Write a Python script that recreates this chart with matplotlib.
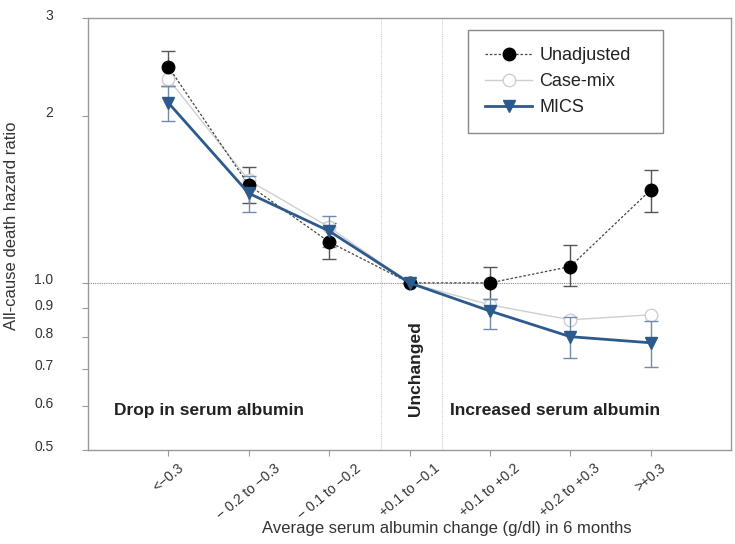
import numpy as np
import matplotlib
matplotlib.use("Agg")
import matplotlib.pyplot as plt
import matplotlib.transforms as mtransforms

plt.rcParams["font.family"] = ["Liberation Sans", "DejaVu Sans"]

# Categories (albumin change groups)
categories = ["<\u22120.3", "\u2212 0.2 to \u22120.3", "\u2212 0.1 to \u22120.2", "+0.1 to \u22120.1",
              "+0.1 to +0.2", "+0.2 to +0.3", ">+0.3"]

# Hazard ratios
unadj = [2.45, 1.50, 1.185, 1.0, 1.0, 1.07, 1.47]
unadj_lo = [2.26, 1.39, 1.105, 1.0, 0.936, 0.988, 1.34]
unadj_hi = [2.62, 1.62, 1.28, 1.0, 1.069, 1.17, 1.60]

casemix = [2.33, 1.53, 1.26, 1.0, 0.913, 0.858, 0.876]

mics = [2.11, 1.45, 1.24, 1.0, 0.89, 0.80, 0.78]
mics_lo = [1.96, 1.34, 1.16, 1.0, 0.826, 0.733, 0.706]
mics_hi = [2.26, 1.56, 1.32, 1.0, 0.936, 0.868, 0.852]

yticks = [0.5, 0.6, 0.7, 0.8, 0.9, 1.0, 2, 3]
ytick_labels = ["0.5", "0.6", "0.7", "0.8", "0.9", "1.0", "2", "3"]

x = np.arange(len(categories))
blue = "#2c5a8c"

fig = plt.figure(figsize=(7.35, 5.44), dpi=100)
ax = fig.add_axes([88 / 735, 1 - 450 / 544, (731 - 88) / 735, (450 - 18) / 544])
ax.set_yscale("log")
ax.set_xlim(-1, 7)
ax.set_ylim(0.5, 3.0)

# reference lines
ax.axhline(1.0, color="#888888", lw=0.8, ls=(0, (1, 1)), zorder=1)
for xv in [2.65, 3.4]:
    ax.axvline(xv, color="#cccccc", lw=0.8, ls=(0, (1, 1)), zorder=1)

# Unadjusted
ua = np.array(unadj)
ax.errorbar(x, ua, yerr=[ua - np.array(unadj_lo), np.array(unadj_hi) - ua],
            fmt="none", ecolor="#555555", elinewidth=1, capsize=5, capthick=1, zorder=3)
ax.plot(x, ua, color="#444444", lw=0.9, ls=(0, (2, 1.5)), marker="o",
        markersize=9, markerfacecolor="black", markeredgecolor="black",
        label="Unadjusted", zorder=4)

# Case-mix
ax.plot(x, casemix, color="#cfcfcf", lw=1, marker="o", markersize=9,
        markerfacecolor="white", markeredgecolor="#cfcfcf", label="Case-mix", zorder=3)

# MICS
ma = np.array(mics)
ax.errorbar(x, ma, yerr=[ma - np.array(mics_lo), np.array(mics_hi) - ma],
            fmt="none", ecolor="#6f8cab", elinewidth=1, capsize=5, capthick=1, zorder=3)
ax.plot(x, ma, color=blue, lw=2, marker="v", markersize=8.5,
        markerfacecolor=blue, markeredgecolor=blue, label="MICS", zorder=5)

# axes styling
for s in ax.spines.values():
    s.set_color("#999999")
    s.set_linewidth(1)
ax.minorticks_off()
ax.set_yticks(yticks)
ax.set_yticklabels(ytick_labels)
ax.set_xticks(x)
ax.set_xticklabels(categories, rotation=40, ha="center", va="top")
ax.tick_params(axis="y", which="both", length=4, pad=21, color="#999999",
               labelsize=10, labelcolor="#333333")
ax.tick_params(axis="x", length=4, pad=4, color="#999999",
               labelsize=10, labelcolor="#333333")
# y labels sit a little above their ticks in the original
shift = mtransforms.ScaledTranslation(0, 4 / 100, fig.dpi_scale_trans)
for lab in ax.get_yticklabels():
    lab.set_transform(lab.get_transform() + shift)

# annotations
ax.text(-0.68, 0.59, "Drop in serum albumin", fontsize=12.5, fontweight="bold",
        color="#222222", va="center", ha="left")
ax.text(3.50, 0.59, "Increased serum albumin", fontsize=12.5, fontweight="bold",
        color="#222222", va="center", ha="left")
ax.text(3.07, 0.70, "Unchanged", fontsize=12.5, fontweight="bold", rotation=90,
        color="#222222", va="center", ha="center")

# legend
leg = ax.legend(loc="upper left", bbox_to_anchor=((468 - 88) / 643, (450 - 34) / 432, (663 - 468) / 643, 0.01),
                mode="expand", borderaxespad=0, fontsize=13, handlelength=2.6,
                labelspacing=0.5, borderpad=0.95, handletextpad=0.4, fancybox=False,
                edgecolor="#888888", framealpha=1)
leg.get_frame().set_linewidth(1)
for t in leg.get_texts():
    t.set_color("#222222")

fig.text(12 / 735, 1 - 226 / 544, "All-cause death hazard ratio", rotation=90,
         fontsize=12, color="#333333", ha="center", va="center")
fig.text(447 / 735, 1 - 528 / 544, "Average serum albumin change (g/dl) in 6 months",
         fontsize=12, color="#333333", ha="center", va="center")

fig.savefig("out.png", dpi=100)
